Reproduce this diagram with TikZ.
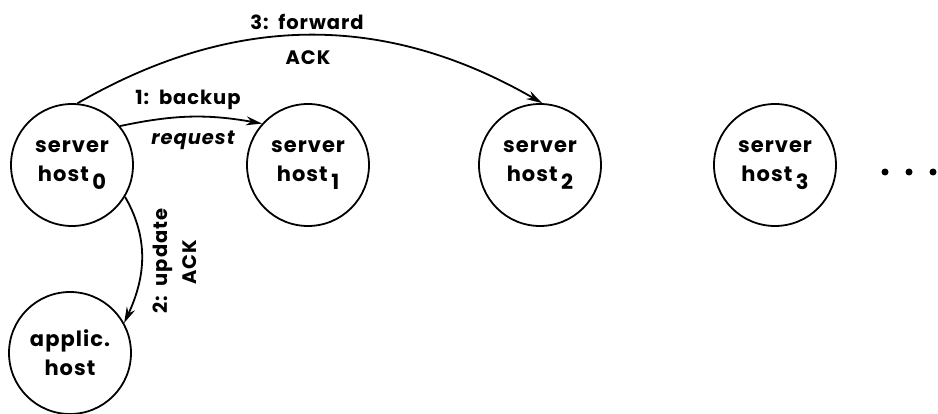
\documentclass[tikz,border=0pt]{standalone}
\usepackage{fontspec}
\setmainfont{Poppins}[LetterSpace=5]
\usetikzlibrary{arrows.meta}
\newcommand{\hsub}[1]{\,\raisebox{-8pt}{#1}}
\begin{document}
\begin{tikzpicture}[x=1pt,y=-1pt,
  host/.style={draw,circle,line width=1.8pt,minimum size=122pt,inner sep=0pt,align=center,
    font=\fontsize{21}{29}\selectfont\bfseries},
  conn/.style={line width=1.8pt,-{Stealth[length=16pt,width=9pt]}},
  lbl/.style={font=\fontsize{19.5}{27}\selectfont\bfseries,inner sep=0pt,align=center},
  dot/.style={circle,fill,inner sep=0pt,minimum size=7pt}]
\useasboundingbox (0,0) rectangle (938,414);
\node[host] (h0) at (72,165) {server\\host\hsub{0}};
\node[host] (h1) at (308,165) {server\\host\hsub{1}};
\node[host] (h2) at (540,165) {server\\host\hsub{2}};
\node[host] (h3) at (775,165) {server\\host\hsub{3}};
\node[host] (ap) at (70,353) {applic.\\host};
\node[dot] (d1) at (885,172) {};
\node[dot] (d2) at (909,172) {};
\node[dot] (d3) at (933,172) {};
\draw[conn] (h0.39) to[out=12,in=170] (h1.138);
\draw[conn] (h0.85) to[out=30,in=150] (h2.88);
\draw[conn] (h0.-31) to[out=-60,in=65] (ap.29);
\node[lbl] (l3a) at (307,22) {3:\enspace forward};
\node[lbl] (l3b) at (308,58) {ACK};
\node[lbl] (l1a) at (188,100) {1:\enspace backup};
\node[lbl,font=\fontsize{19.5}{27}\selectfont\bfseries\itshape] (l1b) at (193,140) {request};
\node[lbl,rotate=90] (l2a) at (163,261) {2:\enspace update};
\node[lbl,rotate=90] (l2b) at (190,262) {ACK};
\end{tikzpicture}
\end{document}
